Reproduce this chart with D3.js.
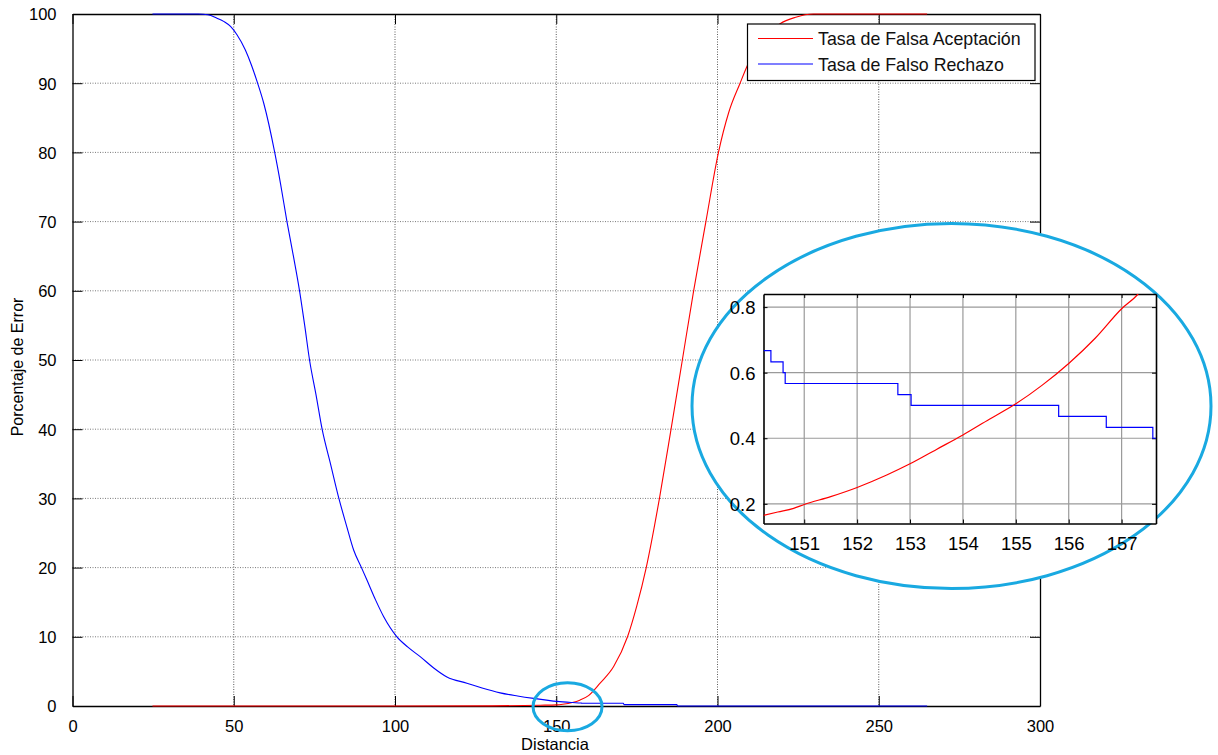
<!DOCTYPE html>
<html>
<head>
<meta charset="utf-8">
<script src="https://cdn.jsdelivr.net/npm/d3@7"></script>
<style>
  html, body { margin: 0; padding: 0; background: #fff; }
  svg { display: block; font-family: "Liberation Sans", Arial, sans-serif; }
</style>
</head>
<body>
<svg id="chart" width="1218" height="755"></svg>
<script>
// Tasa de Falso Rechazo (FRR) y Tasa de Falsa Aceptación (FAR) en función de la distancia
const frrDist = [24.8, 39, 42, 44.8, 47, 49, 51, 53.6, 55.5, 57.4, 59.3, 62.7, 64.5, 66.5, 68.5, 70.4, 72, 73.5, 75.5, 77.4,
                 80, 82.6, 85, 87.2, 89.6, 91.3, 94, 96.5, 100.6, 104, 107.9, 112, 116.1, 122.3, 127, 132.6, 138, 143,
                 147, 150.2, 155, 157.6, 158, 170.8, 171, 187.4, 187.6, 265];
const frrVal  = [100, 100, 99.9, 99.4, 98.9, 98.2, 97, 94.8, 92.6, 90, 87.1, 80, 75.5, 70, 65, 60, 55, 50, 45, 40,
                 35, 30, 26, 22.5, 20, 18.2, 15.3, 12.9, 10, 8.5, 7.1, 5.5, 4.2, 3.3, 2.6, 1.9, 1.45, 1.1,
                 0.85, 0.67, 0.5, 0.43, 0.4, 0.4, 0.2, 0.2, 0, 0];

const farDist = [24.8, 60, 100, 130, 140, 145, 150.2, 152, 155, 157.3, 160, 163.6, 167.8, 172.1, 175, 177.9, 182, 185.6,
                 189.1, 192.6, 196.4, 200.3, 203.5, 207, 209.3, 213, 219.4, 224, 229.7, 265];
const farVal  = [0, 0, 0, 0.02, 0.07, 0.11, 0.165, 0.25, 0.5, 0.84, 1.5, 3.3, 5.7, 10, 14.5, 20, 30, 40,
                 50, 60, 70, 80, 85.8, 90, 92.6, 95.8, 98.6, 99.5, 100, 100];

// Detalle ampliado alrededor del punto de igual error
const frrZoomDist = [150.23, 150.37, 150.60, 150.64, 152.77, 153.02, 155.81, 156.71, 157.59, 157.65];
const frrZoomVal  = [0.667, 0.633, 0.6, 0.567, 0.533, 0.5, 0.467, 0.433, 0.4, 0.4];

const farZoomDist = [150.23, 150.5, 150.8, 151, 151.5, 152, 152.56, 153, 153.5, 154, 154.5, 155, 155.5, 156, 156.5, 157, 157.31, 157.45];
const farZoomVal  = [0.165, 0.175, 0.186, 0.198, 0.222, 0.25, 0.288, 0.322, 0.366, 0.41, 0.458, 0.505, 0.562, 0.628, 0.705, 0.795, 0.84, 0.87];

const xTicks = [0, 50, 100, 150, 200, 250, 300];
const yTicks = [0, 10, 20, 30, 40, 50, 60, 70, 80, 90, 100];
const xZoomTicks = [151, 152, 153, 154, 155, 156, 157];
const yZoomTicks = [0.2, 0.4, 0.6, 0.8];

const legendLabels = ["Tasa de Falsa Aceptación", "Tasa de Falso Rechazo"];
const seriesColors = ["#ff0000", "#0000ff"];

const svg = d3.select("#chart");

// ---------- Main axes ----------
const M = { left: 72.5, right: 1040, top: 14, bottom: 706 };
const x = d3.scaleLinear().domain([0, 300]).range([M.left, M.right]);
const y = d3.scaleLinear().domain([0, 100]).range([M.bottom, M.top]);

const main = svg.append("g");

// dotted grid
main.append("g").selectAll("line").data(xTicks.slice(1, -1)).join("line")
  .attr("x1", d => x(d)).attr("x2", d => x(d))
  .attr("y1", M.top).attr("y2", M.bottom)
  .attr("stroke", "#5a5a5a").attr("stroke-width", 1).attr("stroke-dasharray", "1,1.5");
main.append("g").selectAll("line").data(yTicks.slice(1, -1)).join("line")
  .attr("x1", M.left).attr("x2", M.right)
  .attr("y1", d => y(d)).attr("y2", d => y(d))
  .attr("stroke", "#7a7a7a").attr("stroke-width", 1).attr("stroke-dasharray", "1,1.5");

// axes with inward ticks on all four sides
const tickLen = 10;
const axB = main.append("g").attr("transform", `translate(0,${M.bottom})`)
  .call(d3.axisBottom(x).tickValues(xTicks).tickSizeInner(-tickLen).tickSizeOuter(0).tickPadding(14));
const axT = main.append("g").attr("transform", `translate(0,${M.top})`)
  .call(d3.axisTop(x).tickValues(xTicks).tickSizeInner(-tickLen).tickSizeOuter(0).tickFormat(""));
const axL = main.append("g").attr("transform", `translate(${M.left},0)`)
  .call(d3.axisLeft(y).tickValues(yTicks).tickSizeInner(-tickLen).tickSizeOuter(0).tickPadding(16));
const axR = main.append("g").attr("transform", `translate(${M.right},0)`)
  .call(d3.axisRight(y).tickValues(yTicks).tickSizeInner(-tickLen).tickSizeOuter(0).tickFormat(""));
[axB, axT, axL, axR].forEach(a => {
  a.select(".domain").attr("stroke", "#000").attr("stroke-width", 1.3);
  a.selectAll(".tick line").attr("stroke", "#000");
  a.selectAll(".tick text").attr("fill", "#000").attr("font-size", 16.5)
    .attr("font-family", "'Liberation Sans', Arial, sans-serif");
});
axL.selectAll(".tick text").attr("dy", "0.36em");

// series
const lineMain = d3.line().x(d => x(d[0])).y(d => y(d[1])).curve(d3.curveMonotoneX);
const farPts = farDist.map((d, i) => [d, farVal[i]]);
const frrPts = frrDist.map((d, i) => [d, frrVal[i]]);
main.append("path").datum(farPts).attr("d", lineMain)
  .attr("fill", "none").attr("stroke", seriesColors[0]).attr("stroke-width", 1.1);
main.append("path").datum(frrPts).attr("d", lineMain)
  .attr("fill", "none").attr("stroke", seriesColors[1]).attr("stroke-width", 1.1);

// axis titles
main.append("text").attr("x", 555).attr("y", 750).attr("text-anchor", "middle")
  .attr("font-size", 16.5).text("Distancia");
main.append("text").attr("transform", "translate(23,367) rotate(-90)").attr("text-anchor", "middle")
  .attr("font-size", 16).text("Porcentaje de Error");

// legend
const lg = main.append("g");
lg.append("rect").attr("x", 747.5).attr("y", 24).attr("width", 287.5).attr("height", 56.5)
  .attr("fill", "#fff").attr("stroke", "#000").attr("stroke-width", 1.2);
legendLabels.forEach((lab, i) => {
  const ly = 38.5 + i * 25.5;
  lg.append("line").attr("x1", 758).attr("x2", 813).attr("y1", ly).attr("y2", ly)
    .attr("stroke", seriesColors[i]).attr("stroke-width", 1.2);
  lg.append("text").attr("x", 818).attr("y", ly + 6.5).attr("font-size", 17.8).attr("fill", "#111").text(lab);
});

// ---------- Highlight marks ----------
const ringColor = "#19a9e1";
// small ring around the crossing point
svg.append("ellipse").attr("cx", x(153.5)).attr("cy", y(0) + 0.7).attr("rx", 34.5).attr("ry", 24)
  .attr("fill", "none").attr("stroke", ringColor).attr("stroke-width", 3);
// large ring holding the magnified view
svg.append("ellipse").attr("cx", 951.5).attr("cy", 406).attr("rx", 259.5).attr("ry", 182.5)
  .attr("fill", "#fff").attr("stroke", ringColor).attr("stroke-width", 3);

// ---------- Magnified inset ----------
const I = { left: 763.5, right: 1156, top: 294, bottom: 523.5 };
const xi = d3.scaleLinear().domain([150.23, 157.65]).range([I.left, I.right]);
const yi = d3.scaleLinear().domain([0.14, 0.84]).range([I.bottom, I.top]);
const inset = svg.append("g");

svg.append("clipPath").attr("id", "insetClip").append("rect")
  .attr("x", I.left).attr("y", I.top).attr("width", I.right - I.left).attr("height", I.bottom - I.top);

inset.append("rect").attr("x", I.left).attr("y", I.top).attr("width", I.right - I.left).attr("height", I.bottom - I.top)
  .attr("fill", "#fff");
inset.append("g").selectAll("line").data(xZoomTicks).join("line")
  .attr("x1", d => xi(d)).attr("x2", d => xi(d)).attr("y1", I.top).attr("y2", I.bottom)
  .attr("stroke", "#9a9a9a").attr("stroke-width", 1.2);
inset.append("g").selectAll("line").data(yZoomTicks).join("line")
  .attr("x1", I.left).attr("x2", I.right).attr("y1", d => yi(d)).attr("y2", d => yi(d))
  .attr("stroke", "#9a9a9a").attr("stroke-width", 1.2);

const ziTick = 4;
const iB = inset.append("g").attr("transform", `translate(0,${I.bottom})`)
  .call(d3.axisBottom(xi).tickValues(xZoomTicks).tickSizeInner(-ziTick).tickSizeOuter(0).tickPadding(13));
const iT = inset.append("g").attr("transform", `translate(0,${I.top})`)
  .call(d3.axisTop(xi).tickValues(xZoomTicks).tickSizeInner(-ziTick).tickSizeOuter(0).tickFormat(""));
const iL = inset.append("g").attr("transform", `translate(${I.left},0)`)
  .call(d3.axisLeft(yi).tickValues(yZoomTicks).tickSizeInner(-ziTick).tickSizeOuter(0).tickPadding(8).tickFormat(d3.format(".1f")));
const iR = inset.append("g").attr("transform", `translate(${I.right},0)`)
  .call(d3.axisRight(yi).tickValues(yZoomTicks).tickSizeInner(-ziTick).tickSizeOuter(0).tickFormat(""));
[iB, iT, iL, iR].forEach(a => {
  a.select(".domain").attr("stroke", "#000").attr("stroke-width", 1.6);
  a.selectAll(".tick line").attr("stroke", "#000");
  a.selectAll(".tick text").attr("fill", "#000").attr("font-size", 18.5)
    .attr("font-family", "'Liberation Sans', Arial, sans-serif");
});
iL.selectAll(".tick text").attr("dy", "0.36em");

const lineFar = d3.line().x(d => xi(d[0])).y(d => yi(d[1])).curve(d3.curveMonotoneX);
const lineFrr = d3.line().x(d => xi(d[0])).y(d => yi(d[1])).curve(d3.curveStepAfter);
const gl = inset.append("g").attr("clip-path", "url(#insetClip)");
gl.append("path").datum(frrZoomDist.map((d, i) => [d, frrZoomVal[i]])).attr("d", lineFrr)
  .attr("fill", "none").attr("stroke", seriesColors[1]).attr("stroke-width", 1.2);
gl.append("path").datum(farZoomDist.map((d, i) => [d, farZoomVal[i]])).attr("d", lineFar)
  .attr("fill", "none").attr("stroke", seriesColors[0]).attr("stroke-width", 1.2);
</script>
</body>
</html>
